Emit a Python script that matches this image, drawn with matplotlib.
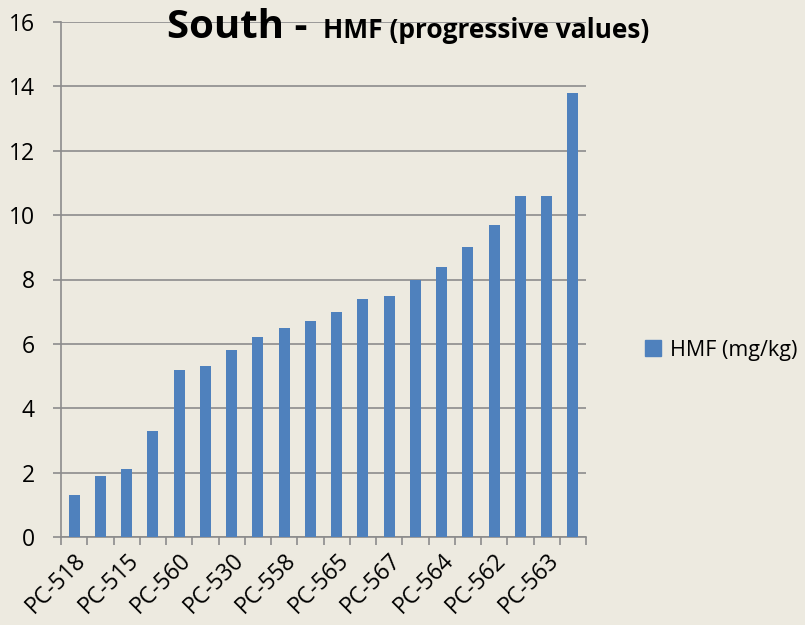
import matplotlib
matplotlib.use("Agg")
import matplotlib.pyplot as plt
import numpy as np
from matplotlib.patches import Patch

categories = ["PC-518", "PC-517", "PC-515", "PC-516", "PC-560", "PC-559", "PC-530", "PC-531",
              "PC-558", "PC-557", "PC-565", "PC-566", "PC-567", "PC-568", "PC-564", "PC-561",
              "PC-562", "PC-569", "PC-563", "PC-570"]
values = [1.3, 1.9, 2.1, 3.3, 5.2, 5.3, 5.8, 6.2, 6.5, 6.7, 7.0, 7.4, 7.5, 8.0, 8.4, 9.0,
          9.7, 10.6, 10.6, 13.8]
series_name = "HMF (mg/kg)"
yticks = [0, 2, 4, 6, 8, 10, 12, 14, 16]

plt.rcParams['font.family'] = ['Open Sans', 'DejaVu Sans']
bg = "#EDEAE0"
bar_color = "#4F81BD"
grid_color = "#8C8C8C"

fig = plt.figure(figsize=(8.05, 6.25), dpi=100, facecolor=bg)
ax = fig.add_axes([61/805, 1-537/625, (586-61)/805, (537-22)/625])
ax.set_facecolor(bg)

x = np.arange(len(categories))
ax.bar(x, values, width=0.42, color=bar_color, zorder=3)

ax.set_xlim(-0.5, len(categories)-0.5)
ax.set_ylim(0, 16)
ax.set_yticks(yticks)
ax.set_yticklabels([str(v) for v in yticks], fontsize=16.5)
ax.yaxis.grid(True, color=grid_color, linewidth=1.2, zorder=0)
ax.tick_params(axis='y', length=6, width=1.2, color=grid_color, pad=13, labelcolor='black')

ax.set_xticks(x[::2])
ax.set_xticklabels(categories[::2], rotation=45, ha='right', va='top',
                   rotation_mode='anchor', fontsize=16.5)
ax.tick_params(axis='x', which='major', length=0, pad=8)
ax.set_xticks(np.arange(-0.5, len(categories)), minor=True)
ax.tick_params(axis='x', which='minor', length=6, width=1.2, color=grid_color)

for s in ['top', 'right']:
    ax.spines[s].set_visible(False)
for s in ['left', 'bottom']:
    ax.spines[s].set_color(grid_color)
    ax.spines[s].set_linewidth(1.2)

fig.text(318/805, 1-38/625, "South - ", ha='right', va='baseline',
         fontsize=29, fontweight='bold')
fig.text(323/805, 1-38/625, "HMF (progressive values)", ha='left', va='baseline',
         fontsize=19, fontweight='bold')

fig.legend(handles=[Patch(color=bar_color, label=series_name)], loc='center left',
           bbox_to_anchor=(630/805, 1-350/625), frameon=False, fontsize=15.5,
           handlelength=0.75, handleheight=0.75, handletextpad=0.4, borderpad=0.2)

fig.savefig("out.png", dpi=100, facecolor=bg)
